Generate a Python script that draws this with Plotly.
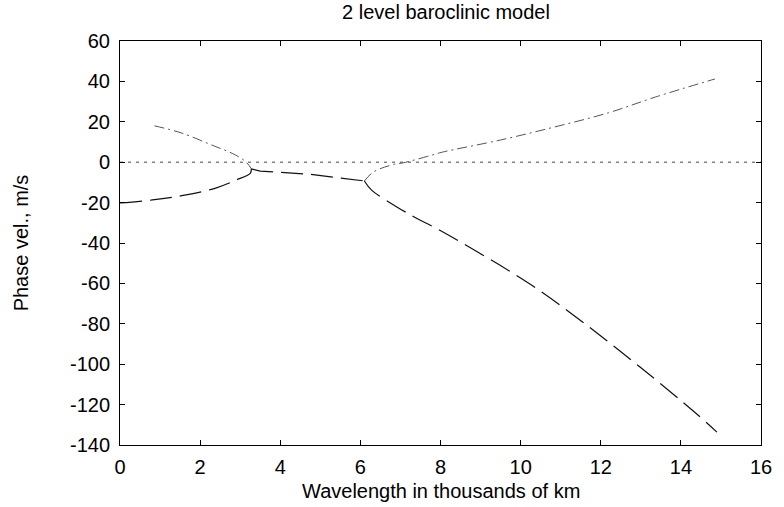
import plotly.graph_objects as go

# Short-wave branches (left parabola)
upper_short_x = [0.86, 1.53, 2.29, 2.88, 3.15, 3.28]
upper_short_y = [18.0, 14.5, 8.5, 3.6, 0.0, -3.3]
lower_short_x = [0.0, 0.81, 1.65, 2.39, 2.9, 3.25, 3.28]
lower_short_y = [-20.2, -18.7, -16.2, -12.8, -8.8, -5.5, -3.3]

# Unstable region (real part of phase velocity)
middle_x = [3.28, 3.5, 4.7, 5.5, 6.1]
middle_y = [-3.3, -4.4, -5.9, -7.7, -9.3]

# Long-wave branches
upper_long_x = [6.1, 6.33, 6.85, 7.07, 7.8, 8.05, 9.5, 10.84, 12.2, 13.37, 14.85]
upper_long_y = [-9.3, -4.8, -1.0, -0.3, 3.6, 5.0, 11.0, 17.4, 24.5, 32.3, 41.2]
lower_long_x = [6.1, 6.28, 6.9, 7.39, 7.88, 8.8, 10.27, 11.58, 12.98, 14.36, 14.9]
lower_long_y = [-9.3, -13.8, -22.0, -27.6, -32.6, -43.0, -60.8, -79.6, -101.4, -124.0, -133.6]

zero_x = [0, 16]
zero_y = [0, 0]

x_ticks = [0, 2, 4, 6, 8, 10, 12, 14, 16]
x_ticktext = ["0", "2", "4", "6", "8", "10", "12", "14", "16"]
y_ticks = [60, 40, 20, 0, -20, -40, -60, -80, -100, -120, -140]
y_ticktext = ["60", "40", "20", "0", "-20", "-40", "-60", "-80", "-100", "-120", "-140"]

dash_long = "22px,8px"
dash_dot = "10px,4px,2px,4px"

fig = go.Figure()
fig.add_trace(go.Scatter(x=zero_x, y=zero_y, mode="lines",
                         line=dict(color="#444", width=1, dash="3px,5px")))
fig.add_trace(go.Scatter(x=upper_short_x, y=upper_short_y, mode="lines",
                         line=dict(color="#555", width=1, dash=dash_dot, shape="spline")))
fig.add_trace(go.Scatter(x=lower_short_x, y=lower_short_y, mode="lines",
                         line=dict(color="#111", width=1.2, dash=dash_long, shape="spline")))
fig.add_trace(go.Scatter(x=middle_x, y=middle_y, mode="lines",
                         line=dict(color="#111", width=1.2, dash=dash_long)))
fig.add_trace(go.Scatter(x=upper_long_x, y=upper_long_y, mode="lines",
                         line=dict(color="#555", width=1, dash=dash_dot, shape="spline")))
fig.add_trace(go.Scatter(x=lower_long_x, y=lower_long_y, mode="lines",
                         line=dict(color="#111", width=1.2, dash=dash_long, shape="spline")))

axis_common = dict(showline=True, linecolor="black", linewidth=1, mirror="ticks",
                   ticks="inside", ticklen=5, tickcolor="black", showgrid=False,
                   zeroline=False, tickfont=dict(size=20, color="black"))

fig.update_layout(
    width=784, height=507,
    margin=dict(l=120, r=14, t=41, b=62),
    paper_bgcolor="white", plot_bgcolor="white",
    showlegend=False,
    font=dict(family="Liberation Sans, Arial, sans-serif", color="black"),
    title=dict(text="2 level baroclinic model", x=446 / 784, xanchor="center",
               y=1 - 12 / 507, yanchor="middle", font=dict(size=20, color="black")),
    xaxis=dict(range=[0, 16], tickvals=x_ticks, ticktext=x_ticktext,
               ticklabelstandoff=4, **axis_common),
    yaxis=dict(range=[-140, 60], tickvals=y_ticks, ticktext=y_ticktext,
               ticklabelstandoff=5,
               title=dict(text="Phase vel., m/s", font=dict(size=20), standoff=35),
               **axis_common),
    annotations=[dict(text="Wavelength in thousands of km", xref="paper", yref="paper",
                      x=0.5, y=(445 - 491) / 404, xanchor="center", yanchor="middle",
                      showarrow=False, font=dict(size=20, color="black"))],
)

fig.write_html("out.html")
